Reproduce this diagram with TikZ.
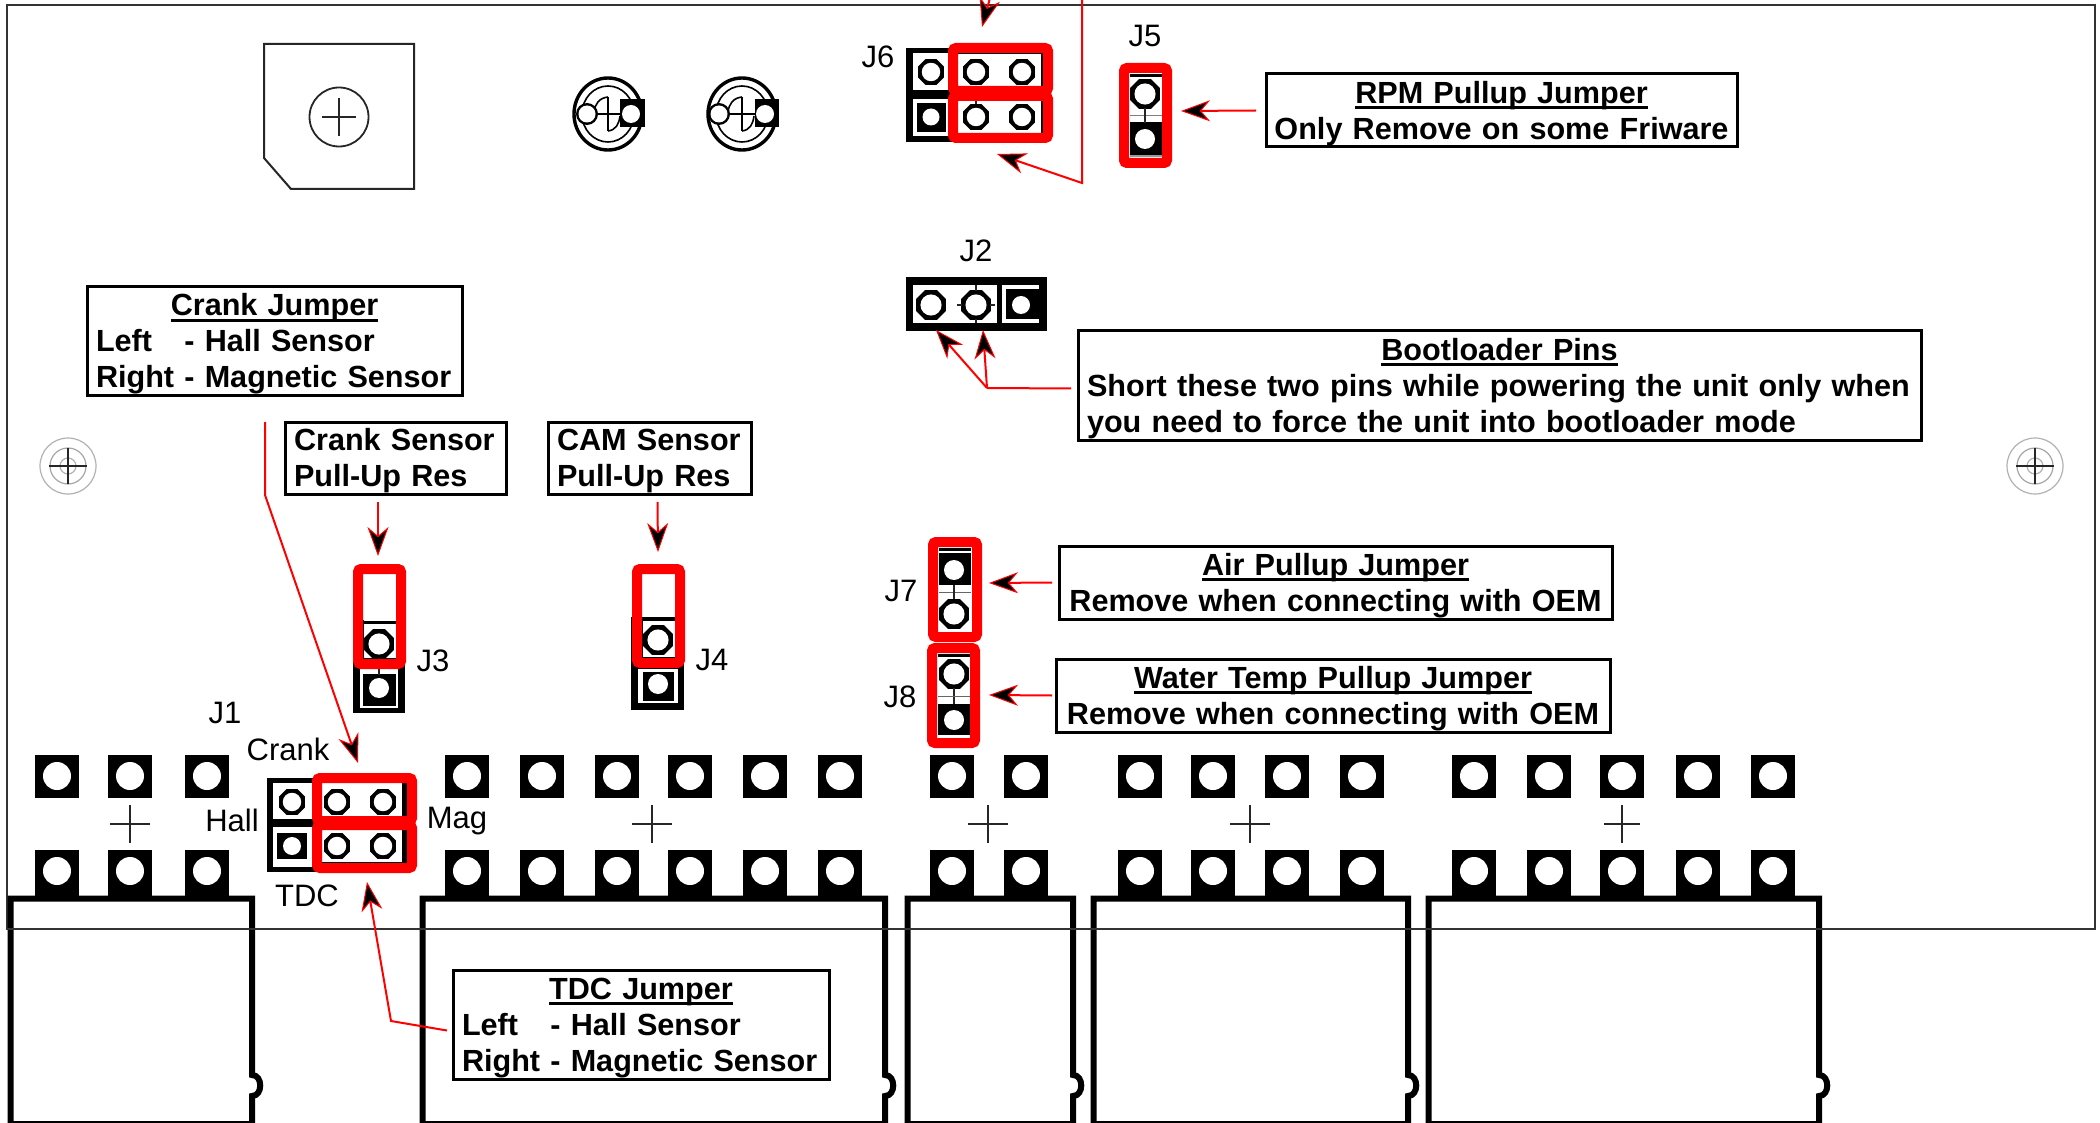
\documentclass[tikz,border=0pt]{standalone}
\usepackage{fontspec}
\setmainfont{Liberation Sans}
\usetikzlibrary{arrows.meta}
\newcommand\ulin[1]{\setbox0\hbox{#1}\rlap{\rule[-3pt]{\wd0}{1.4pt}}\box0 }
\newcommand\hdl[1]{\noindent\hbox to\hsize{\rule{0pt}{13.8pt}\hss\ulin{#1}\hss}\par}
\newcommand\cln[1]{\noindent\hbox to\hsize{\hss#1\hss}\par}
\newcommand\lln[1]{\noindent\hbox to\hsize{#1\hss}\par}
\newcommand\fln[1]{\noindent\hbox to\hsize{\rule{0pt}{13.8pt}#1\hss}\par}
\newcommand\ringpad[3]{%
  \fill (#1,#2) +(22.5:#3) -- +(67.5:#3) -- +(112.5:#3) -- +(157.5:#3) -- +(202.5:#3) -- +(247.5:#3) -- +(292.5:#3) -- +(337.5:#3) -- cycle;
  \fill[white] (#1,#2) circle[radius={0.66*#3}];}
\newcommand\toppad[1]{\fill ({#1-22},755) rectangle ({#1+22},798); \fill[white] (#1,776) circle[radius=14];}
\newcommand\botpad[1]{\fill ({#1-22},850) rectangle ({#1+22},897); \fill[white] (#1,871) circle[radius=14];}
\newcommand\cross[4]{\draw[thinblack] ({#1-#3},#2) -- ({#1+#3},#2) ({#1},{#2-#4}) -- ({#1},{#2+#4});}
\newcommand\connector[2]{%
  \draw[connline] ({#1+3.5},1124) -- ({#1+3.5},898.5) -- ({#2-3},898.5) -- ({#2-3},1075)
     .. controls ({#2+8},1075) and ({#2+8},1096) .. ({#2-3},1096) -- ({#2-3},1124) -- cycle;}
\newcommand\polcap[6]{% centre, left hole, pad left, pad right, right hole
  \draw[line width=1.7pt] (#1,#6) ellipse[x radius=34, y radius=36];
  \draw[line width=.8pt] (#1,#6) ellipse[x radius=26, y radius=28];
  \draw[line width=.7pt] (#2,#6) -- (#5,#6);
  \draw[line width=.7pt] (#1,97) -- (#1,131);
  \draw[line width=.8pt] (#1,97) .. controls ({#1-9},98) and ({#1-13},104) .. ({#1-14},112);
  \draw[line width=.8pt] (#1,131) .. controls ({#1+8},130) and ({#1+11},124) .. ({#1+12},116);
  \fill (#3,99) rectangle (#4,127);
  \fill[white] (#5,#6) circle[radius=9];
  \fill (#2,#6) circle[radius=11];
  \fill[white] (#2,#6) circle[radius=8.5];}
\tikzset{
  thinblack/.style={line width=.7pt,draw=black!85},
  boardline/.style={line width=1pt,draw=black!80},
  connline/.style={line width=3pt,draw=black,line join=miter},
  redframe/.style={draw=red,line width=5pt,rounded corners=1.5pt},
  redline/.style={draw=red,line width=1pt},
  callarrow/.style={redline,-{Stealth[length=14.5pt,width=10.5pt,inset=4.5pt,color=red,fill=black,line width=.5pt]}},
  callout/.style={draw=black,fill=white,line width=1.5pt,rectangle,anchor=north west,inner xsep=4.5pt,inner ysep=0pt,outer sep=0pt,
     font=\fontsize{15.3}{18}\selectfont\bfseries},
  lbl/.style={font=\fontsize{15.5}{18}\selectfont,inner sep=0pt},
}
\begin{document}
\begin{tikzpicture}[x=0.5pt,y=-0.5pt]
\useasboundingbox (0,0) rectangle (2100,1123);
\clip (0,0) rectangle (2100,1123);
\fill[white] (0,0) rectangle (2100,1123);
% board
\draw[boardline] (7,5) rectangle (2095,929);
% potentiometer
\draw[line width=1pt,draw=black!85] (264,44) -- (414,44) -- (414,189) -- (291,189) -- (264,158) -- cycle;
\draw[line width=.9pt,draw=black!85] (339,117) circle[radius=29.5];
\cross{339}{117}{17}{19}
% capacitors
\polcap{608}{587}{620}{645}{631}{114}
\polcap{742}{719}{755}{779}{765}{114}
% mounting holes
\foreach \mx in {68,2035}{
  \draw[line width=.6pt,draw=black!30] (\mx,466) circle[radius=28];
  \draw[line width=.6pt,draw=black!35] (\mx,466) circle[radius=18];
  \draw[line width=.6pt,draw=black!30] (\mx,466) circle[radius=8];
  \cross{\mx}{466}{19}{18}
}
% connectors
\connector{7}{255}
\connector{419}{888}
\connector{904}{1076}
\connector{1090}{1411}
\connector{1425}{1822}
\draw[boardline] (7,929) -- (2095,929);
% terminal pads
\foreach \px in {57,130,207,467,542,617,690,765,840,952,1026,1140,1213,1287,1362,1474,1549,1622,1698,1773}{
  \toppad{\px}
  \botpad{\px}
}
\cross{130}{824}{20}{19}
\cross{652}{824}{20}{19}
\cross{988}{824}{20}{19}
\cross{1250}{824}{20}{19}
\cross{1622}{824}{18}{19}
% J1
\fill (267,778) rectangle (408,872);
\fill[white] (273,783) rectangle (312,819);
\fill[white] (273,827) rectangle (312,867);
\fill[white] (322,783) rectangle (402,816);
\fill[white] (322,830) rectangle (402,862);
\fill (277,833) rectangle (307,859);
\fill[white] (292,846) circle[radius=9];
\ringpad{292}{802}{14}
\ringpad{337}{802}{14}
\ringpad{383}{802}{14}
\ringpad{337}{846}{14}
\ringpad{383}{846}{14}
\draw[redframe] (317,778) rectangle (412,821);
\draw[redframe] (317,825) rectangle (412,868);
% J6
\fill (906,48) rectangle (1044,142);
\fill[white] (913,53) rectangle (948,90);
\fill[white] (913,99) rectangle (948,136);
\fill[white] (958,54) rectangle (1041,86);
\fill[white] (958,101) rectangle (1041,133);
\fill (917,103) rectangle (946,132);
\fill[white] (931,117) circle[radius=8.5];
\ringpad{931}{72}{14}
\ringpad{976}{72}{14}
\ringpad{1022}{72}{14}
\ringpad{976}{117}{14}
\ringpad{1022}{117}{14}
\draw[thinblack] (976,92) -- (976,104);
\draw[redframe] (953,48) rectangle (1048,91);
\draw[redframe] (953,96) rectangle (1048,138);
% J5
\fill[white] (1130,74) rectangle (1162,157);
\fill (1130,74) rectangle (1162,77);
\fill (1130,122) rectangle (1162,155);
\fill[black!40] (1130,155) rectangle (1162,157);
\fill[black!50] (1130,115.5) rectangle (1162,116.5);
\ringpad{1145}{94}{16}
\draw[thinblack] (1145,108) -- (1145,123);
\fill[white] (1145,139) circle[radius=10];
\draw[redframe] (1124,68) rectangle (1167,163);
% J2
\fill (906,277) rectangle (1047,331);
\fill[white] (913,285) rectangle (997,323);
\fill[white] (1002,285) rectangle (1039,323);
\fill (1006,289) rectangle (1039,319);
\fill (1039,285) rectangle (1047,323);
\fill[white] (1021,305) circle[radius=9];
\ringpad{931}{305}{16}
\ringpad{976}{305}{16}
\draw[thinblack] (976,285) -- (976,291) (976,319) -- (976,323) (957,305) -- (962,305) (990,305) -- (995,305);
% J3
\fill (353,620) rectangle (405,713);
\fill[white] (364,575) rectangle (396,658);
\fill (364,621) rectangle (396,624);
\fill[white] (360,669) rectangle (398,708);
\fill (363,674) rectangle (396,706);
\fill[white] (379,688) circle[radius=10];
\ringpad{379}{644}{16}
\draw[thinblack] (379,658) -- (379,675);
\draw[redframe] (358,569) rectangle (401,664);
% J4
\fill (631,617) rectangle (684,710);
\fill[white] (643,575) rectangle (675,615);
\fill[white] (643,621) rectangle (675,657);
\fill[white] (638,669) rectangle (678,703);
\fill (643,672) rectangle (674,701);
\fill[white] (658,684) circle[radius=10];
\ringpad{658}{640}{16}
\draw[redframe] (637,569) rectangle (680,663);
% J7
\fill[white] (939,548) rectangle (971,632);
\fill (939,548) rectangle (971,551);
\fill (939,553) rectangle (971,585);
\fill[white] (954,570) circle[radius=10];
\fill[black!60] (939,591.5) rectangle (971,592.5);
\draw[thinblack] (954,585) -- (954,602);
\ringpad{954}{614}{16}
\draw[redframe] (933,542) rectangle (977,637);
% J8
\fill[white] (938,654) rectangle (970,737);
\fill (938,654) rectangle (970,657);
\ringpad{954}{674}{16}
\draw[thinblack] (954,688) -- (954,705);
\fill[black!60] (938,695.5) rectangle (970,696.5);
\fill (938,704) rectangle (970,735);
\fill[white] (954,720) circle[radius=10];
\draw[redframe] (932,648) rectangle (975,743);
% labels
\node[lbl] (lj6) at (878,57) {J6};
\node[lbl] (lj5) at (1145,36) {J5};
\node[lbl] (lj2) at (976,251) {J2};
\node[lbl] (lj3) at (433,661) {J3};
\node[lbl] (lj4) at (712,660) {J4};
\node[lbl] (lj7) at (901,591) {J7};
\node[lbl] (lj8) at (900,697) {J8};
\node[lbl] (lj1) at (225,713) {J1};
\node[lbl] (lcrank) at (288,749) {Crank};
\node[lbl] (lhall) at (232,820) {Hall};
\node[lbl] (lmag) at (457,821) {Mag};
\node[lbl] (ltdc) at (307,896) {TDC};
% callouts
\node[callout,minimum width=235.5pt,minimum height=36.5pt,text width=226.5pt] (rpm) at (1266,74)
  {\hdl{RPM Pullup Jumper}\cln{Only Remove on some Friware}};
\node[callout,minimum width=421.5pt,minimum height=54.5pt,text width=412.5pt] (boot) at (1078,331)
  {\hdl{Bootloader Pins}\lln{Short these two pins while powering the unit only when}\lln{you need to force the unit into bootloader mode}};
\node[callout,minimum width=187.5pt,minimum height=54pt,text width=178.5pt] (crank) at (87,287)
  {\hdl{Crank Jumper}\lln{\rlap{Left}\hphantom{Right} - Hall Sensor}\lln{Right - Magnetic Sensor}};
\node[callout,minimum width=110.5pt,minimum height=36pt,text width=101.5pt] (crsens) at (285,422)
  {\fln{Crank Sensor}\lln{Pull-Up Res}};
\node[callout,minimum width=101.5pt,minimum height=36pt,text width=92.5pt] (cam) at (548,422)
  {\fln{CAM Sensor}\lln{Pull-Up Res}};
\node[callout,minimum width=276.5pt,minimum height=36.5pt,text width=267.5pt] (air) at (1059,546)
  {\hdl{Air Pullup Jumper}\cln{Remove when connecting with OEM}};
\node[callout,minimum width=277pt,minimum height=36.5pt,text width=268pt] (water) at (1056,659)
  {\hdl{Water Temp Pullup Jumper}\cln{Remove when connecting with OEM}};
\node[callout,minimum width=188pt,minimum height=54.5pt,text width=179pt] (tdc) at (453,970)
  {\hdl{TDC Jumper}\lln{\rlap{Left}\hphantom{Right} - Hall Sensor}\lln{Right - Magnetic Sensor}};
% connector points
\coordinate (ctop) at (995,-20);
\coordinate (ctopt) at (982,27);
\coordinate (j6line) at (1082,-5);
\coordinate (j6bend) at (1082,183);
\coordinate (j6tip) at (997,154);
\coordinate (rpmtip) at (1181,111);
\coordinate (bj) at (987,388);
\coordinate (bt1) at (936,330);
\coordinate (bt2) at (983,330);
\coordinate (crbend) at (265,495);
\coordinate (crtip) at (358,763);
\coordinate (cstip) at (378,556);
\coordinate (camtip) at (658,552);
\coordinate (airtip) at (989,583);
\coordinate (wattip) at (989,695);
\coordinate (tdcbend) at (391,1021);
\coordinate (tdctip) at (367,882);
% connectors
\draw[callarrow] (ctop) -- (ctopt);
\draw[callarrow] (j6line) -- (j6bend) -- (j6tip);
\draw[callarrow] ([shift={(-10,0)}]rpm.west) -- (rpmtip);
\draw[redline] ([shift={(-7,3)}]boot.west) -- (bj);
\draw[callarrow] (bj) -- (bt1);
\draw[callarrow] (bj) -- (bt2);
\draw[callarrow] ([shift={(-9.5,27)}]crank.south) -- (crbend) -- (crtip);
\draw[callarrow] ([shift={(-17.5,8)}]crsens.south) -- (cstip);
\draw[callarrow] ([shift={(8,8)}]cam.south) -- (camtip);
\draw[callarrow] ([shift={(-7,0)}]air.west) -- (airtip);
\draw[callarrow] ([shift={(-4,0)}]water.west) -- (wattip);
\draw[callarrow] ([shift={(-6,6)}]tdc.west) -- (tdcbend) -- (tdctip);
\end{tikzpicture}
\end{document}
